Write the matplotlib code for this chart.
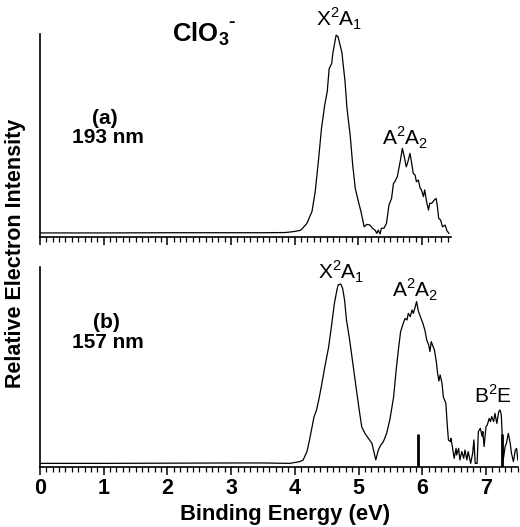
import numpy as np
import matplotlib
matplotlib.use("Agg")
import matplotlib.pyplot as plt
from matplotlib.ticker import MultipleLocator

plt.rcParams['font.family'] = ['Liberation Sans', 'DejaVu Sans']
plt.rcParams['mathtext.fontset'] = 'custom'
plt.rcParams['mathtext.rm'] = 'Liberation Sans'
plt.rcParams['mathtext.bf'] = 'Liberation Sans:bold'

# (a) 193 nm spectrum
E_a = [0.0, 1.0, 2.0, 3.0, 3.5, 3.85, 3.97, 4.08, 4.11, 4.19, 4.27, 4.32, 4.37, 4.42, 4.47,
       4.51, 4.54, 4.58, 4.60, 4.65, 4.68, 4.74, 4.79, 4.82, 4.87, 4.91, 4.95, 5.00, 5.04,
       5.09, 5.13, 5.18, 5.22, 5.26, 5.29, 5.31, 5.34, 5.36, 5.40, 5.44, 5.48, 5.52, 5.55,
       5.57, 5.61, 5.64, 5.66, 5.69, 5.72, 5.75, 5.77, 5.81, 5.84, 5.86, 5.89, 5.91, 5.94,
       5.97, 5.99, 6.02, 6.04, 6.07, 6.10, 6.12, 6.15, 6.19, 6.22, 6.24, 6.26, 6.29, 6.32,
       6.36, 6.39, 6.42]
I_a = [0.020, 0.020, 0.021, 0.021, 0.021, 0.022, 0.026, 0.032, 0.038, 0.067, 0.125, 0.22,
       0.37, 0.535, 0.65, 0.716, 0.83, 0.855, 0.91, 0.995, 0.987, 0.91, 0.765, 0.634, 0.502,
       0.355, 0.24, 0.174, 0.125, 0.05, 0.062, 0.059, 0.043, 0.034, 0.018, 0.034, 0.015,
       0.043, 0.043, 0.067, 0.158, 0.19, 0.264, 0.272, 0.297, 0.346, 0.38, 0.437, 0.396,
       0.346, 0.363, 0.412, 0.355, 0.314, 0.305, 0.272, 0.281, 0.24, 0.232, 0.199, 0.232,
       0.174, 0.133, 0.166, 0.166, 0.182, 0.19, 0.149, 0.092, 0.084, 0.05, 0.059, 0.031, 0.018]

# (b) 157 nm spectrum
E_b = [0.0, 1.0, 2.0, 3.0, 3.5, 3.92, 4.08, 4.13, 4.19, 4.23, 4.27, 4.30, 4.34, 4.38, 4.42,
       4.47, 4.53, 4.58, 4.62, 4.66, 4.68, 4.72, 4.75, 4.78, 4.81, 4.86, 4.91, 4.96, 5.01,
       5.05, 5.10, 5.15, 5.21, 5.24, 5.27, 5.31, 5.35, 5.39, 5.44, 5.49, 5.55, 5.59, 5.63,
       5.66, 5.70, 5.73, 5.76, 5.78, 5.81, 5.84, 5.86, 5.89, 5.91, 5.94, 5.97, 6.01, 6.04,
       6.07, 6.10, 6.12, 6.14, 6.16, 6.19, 6.22, 6.24, 6.26, 6.28, 6.31, 6.33, 6.36, 6.37,
       6.39, 6.41, 6.44, 6.45, 6.48, 6.50, 6.53, 6.54, 6.57, 6.59, 6.62, 6.65, 6.67, 6.70,
       6.72, 6.76, 6.79, 6.81, 6.83, 6.86, 6.88, 6.91, 6.94, 6.95, 6.97, 7.00, 7.02, 7.05,
       7.07, 7.09, 7.12, 7.14, 7.17, 7.20, 7.22, 7.24, 7.26, 7.27, 7.30, 7.32, 7.35, 7.38,
       7.40, 7.43, 7.46, 7.48, 7.50]
I_b = [0.018, 0.018, 0.019, 0.02, 0.02, 0.018, 0.027, 0.035, 0.077, 0.135, 0.2, 0.25, 0.285,
       0.343, 0.41, 0.5, 0.6, 0.717, 0.817, 0.885, 0.91, 0.915, 0.893, 0.835, 0.735, 0.635,
       0.518, 0.4, 0.285, 0.2, 0.168, 0.145, 0.118, 0.077, 0.035, 0.085, 0.11, 0.127, 0.168,
       0.235, 0.35, 0.485, 0.6, 0.677, 0.717, 0.743, 0.735, 0.768, 0.752, 0.785, 0.768, 0.802,
       0.827, 0.777, 0.752, 0.717, 0.685, 0.635, 0.61, 0.577, 0.627, 0.61, 0.585, 0.527, 0.47,
       0.43, 0.46, 0.418, 0.35, 0.327, 0.318, 0.218, 0.135, 0.127, 0.143, 0.085, 0.043, 0.093,
       0.06, 0.093, 0.035, 0.077, 0.043, 0.085, 0.035, 0.077, 0.018, 0.068, 0.135, 0.018,
       0.018, 0.177, 0.193, 0.152, 0.177, 0.102, 0.202, 0.21, 0.243, 0.227, 0.252, 0.227,
       0.268, 0.218, 0.277, 0.285, 0.26, 0.118, 0.035, 0.102, 0.118, 0.168, 0.118, 0.068,
       0.027, 0.085, 0.093, 0.035]

# calculated band positions (sticks)
stick_pos = [5.94, 7.25]
stick_h = [0.165, 0.165]

fig = plt.figure(figsize=(5.2, 5.27), dpi=100)
ax_a = fig.add_axes([0.0769, 0.5503, 0.790, 0.385])
ax_b = fig.add_axes([0.0769, 0.1139, 0.919, 0.3795])


def style(ax, xmax, labels):
    ax.set_xlim(0, xmax)
    ax.set_ylim(0, 1.0)
    for s in ['top', 'right']:
        ax.spines[s].set_visible(False)
    for s in ['left', 'bottom']:
        ax.spines[s].set_linewidth(1.2)
    ax.set_yticks([])
    ax.xaxis.set_major_locator(MultipleLocator(1))
    ax.xaxis.set_minor_locator(MultipleLocator(0.1))
    ax.tick_params(axis='x', which='major', direction='out', length=6, width=1.1,
                   labelsize=15.5, pad=2, labelbottom=labels)
    ax.tick_params(axis='x', which='minor', direction='out', length=3.5, width=0.9)
    if labels:
        for t in ax.get_xticklabels():
            t.set_fontweight('bold')


ax_a.plot(E_a, I_a, color='black', lw=0.9)
style(ax_a, 6.45, False)

ax_b.plot(E_b, I_b, color='black', lw=0.9)
ax_b.vlines(stick_pos, 0, stick_h, color='black', lw=2)
style(ax_b, 7.5, True)

lab = dict(ha='center', va='center', fontsize=15, clip_on=False)
bold = dict(ha='center', va='center', fontsize=15, fontweight='bold')
ax_a.text(2.52, 1.0, r'ClO$_\mathbf{3}$', ha='center', va='center',
          fontsize=18.5, fontweight='bold')
ax_a.text(3.0, 1.055, '-', ha='center', va='center', fontsize=14, fontweight='bold')
ax_a.text(4.69, 1.075, r'X$^\mathrm{2}$A$_\mathrm{1}$', **lab)
ax_a.text(5.73, 0.49, r'A$^\mathrm{2}$A$_\mathrm{2}$', **lab)
ax_a.text(1.02, 0.585, '(a)', **bold)
ax_a.text(1.07, 0.49, '193 nm', **bold)

ax_b.text(4.73, 0.975, r'X$^\mathrm{2}$A$_\mathrm{1}$', **lab)
ax_b.text(5.89, 0.885, r'A$^\mathrm{2}$A$_\mathrm{2}$', **lab)
ax_b.text(7.11, 0.355, r'B$^\mathrm{2}$E', **lab)
ax_b.text(1.05, 0.72, '(b)', **bold)
ax_b.text(1.07, 0.62, '157 nm', **bold)

fig.text(0.548, 0.023, 'Binding Energy (eV)', ha='center', va='center',
         fontsize=15.8, fontweight='bold')
fig.text(0.029, 0.52, 'Relative Electron Intensity', ha='center', va='center',
         rotation=90, fontsize=15.5, fontweight='bold')

fig.savefig('out.png', dpi=100)
